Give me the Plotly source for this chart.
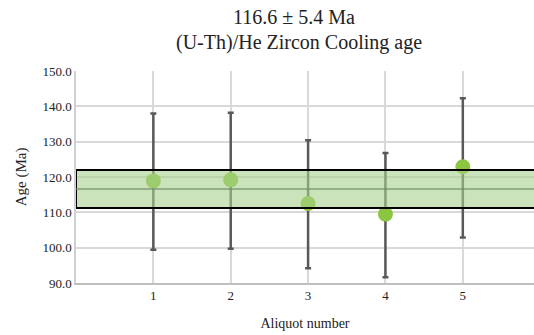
import plotly.graph_objects as go

# Aliquot ages with 2-sigma uncertainties (Ma)
aliquots = [1, 2, 3, 4, 5]
ages = [118.9, 119.2, 112.5, 109.5, 122.9]
err_plus = [19.1, 19.0, 17.9, 17.3, 19.4]
err_minus = [19.5, 19.5, 18.3, 17.9, 20.0]

mean_age = 116.6
mean_err = 5.4
title_lines = ["116.6 ± 5.4 Ma", "(U-Th)/He Zircon Cooling age"]

serif = "Liberation Serif, Times New Roman, serif"
x_lo, x_hi = 0, 5.92

fig = go.Figure()

# Weighted mean band
fig.add_shape(type="rect", xref="x", yref="y", x0=x_lo, x1=x_hi + 1,
              y0=mean_age - mean_err, y1=mean_age + mean_err,
              fillcolor="rgba(169,208,142,0.6)", line=dict(color="black", width=2),
              layer="above")
fig.add_shape(type="line", xref="x", yref="y", x0=x_lo, x1=x_hi + 1,
              y0=mean_age, y1=mean_age,
              line=dict(color="rgba(110,140,100,0.8)", width=1.5), layer="above")

fig.add_trace(go.Scatter(
    x=aliquots, y=ages, mode="markers",
    marker=dict(size=15, color="#8cc540", line=dict(width=0)),
    error_y=dict(type="data", symmetric=False, array=err_plus, arrayminus=err_minus,
                 color="#595959", thickness=2.5, width=3),
    showlegend=False,
))

# Two-line chart title
for text, ypos, xpos in zip(title_lines, [1.255, 1.135], [0.475, 0.486]):
    fig.add_annotation(text=text, xref="paper", yref="paper", x=xpos, y=ypos,
                       xanchor="center", yanchor="middle", showarrow=False,
                       font=dict(family=serif, size=20, color="#222"))

fig.update_layout(
    width=534, height=335,
    margin=dict(l=76, r=0, t=71, b=52),
    paper_bgcolor="white", plot_bgcolor="white",
    font=dict(family=serif, color="#333"),
)

fig.update_xaxes(range=[x_lo, x_hi], tickvals=aliquots, ticktext=[str(a) for a in aliquots],
                 showgrid=True, gridcolor="#d9d9d9", gridwidth=1.5,
                 showline=True, linecolor="#bfbfbf", linewidth=1.5,
                 zeroline=False, ticks="", tickfont=dict(family=serif, size=13, color="#222"),
                 title=dict(text="Aliquot number", font=dict(family=serif, size=14, color="#222"),
                            standoff=16))
fig.update_yaxes(range=[90, 150], dtick=10, tickformat=".1f",
                 showgrid=True, gridcolor="#d9d9d9", gridwidth=1.5,
                 showline=True, linecolor="#d0d0d0", linewidth=1.5,
                 zeroline=False, ticks="", tickfont=dict(family=serif, size=13, color="#222"),
                 title=dict(text="Age (Ma)", font=dict(family=serif, size=15, color="#222"),
                            standoff=12))

fig.write_html("out.html")
